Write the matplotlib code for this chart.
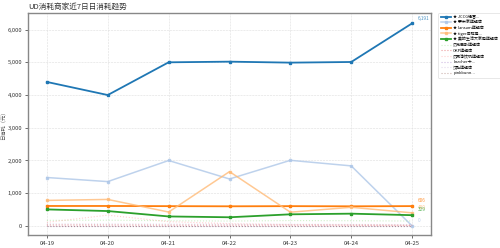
import matplotlib
matplotlib.use("Agg")
import matplotlib.pyplot as plt
from matplotlib.ticker import FuncFormatter

plt.rcParams['font.family'] = ['Noto Sans CJK SC', 'DejaVu Sans']

dates = ["04-19", "04-20", "04-21", "04-22", "04-23", "04-24", "04-25"]
names = ["★ JCCG经营...", "★ 慕米家旗舰店", "★ lansam旗舰店", "★ tiger虎牌电...",
         "★ 美的生活大家电旗舰店", "贝克巴斯旗舰店", "OKP旗舰店", "贝壳净饮机旗舰店",
         "karcher卡...", "汉酷旗舰店", "pinkbunn..."]
s_jccg = [4400, 4000, 5000, 5020, 4990, 5010, 6191]
s_mumi = [1480, 1355, 2000, 1435, 2005, 1835, 0]
s_lansam = [610, 610, 605, 600, 605, 600, 606]
s_tiger = [780, 810, 425, 1660, 420, 570, 400]
s_midea = [505, 455, 290, 265, 355, 375, 329]
s_beike = [170, 175, 160, 150, 165, 160, 150]
s_okp = [30, 30, 25, 25, 25, 25, 20]
s_bkjy = [110, 330, 130, 70, 40, 30, 20]
s_karcher = [10, 10, 10, 10, 10, 10, 10]
s_hanku = [60, 60, 55, 50, 50, 45, 40]
s_pink = [5, 5, 5, 5, 5, 5, 5]
series = [s_jccg, s_mumi, s_lansam, s_tiger, s_midea, s_beike, s_okp, s_bkjy,
          s_karcher, s_hanku, s_pink]
labelled = [0, 1, 2, 3, 4]

cmap = plt.get_cmap('tab20')
fig = plt.figure(figsize=(5, 2.48), dpi=100)
ax = fig.add_axes([0.056, 0.052, 0.806, 0.896])
x = list(range(len(dates)))
for i, (nm, vals) in enumerate(zip(names, series)):
    c = cmap(i)
    if i < 5:
        lw = 1.3 if i in (0, 2, 4) else 1.1
        al = 1.0 if i in (0, 2, 4) else 0.8
        ax.plot(x, vals, color=c, lw=lw, alpha=al, marker='s', ms=2.0, label=nm)
    else:
        ax.plot(x, vals, color=c, lw=0.8, alpha=0.45, ls=':', label=nm)

for i in labelled:
    v = series[i][-1]
    ax.annotate(f"{v:,}", (x[-1], v), xytext=(4, 2), textcoords='offset points',
                fontsize=3.4, color=cmap(i), alpha=0.8, ha='left', va='bottom')

ax.set_xlim(-0.31, 6.31)
ax.set_ylim(-280, 6510)
ax.set_xticks(x)
ax.set_xticklabels(dates)
ax.set_yticks(range(0, 7000, 1000))
ax.yaxis.set_major_formatter(FuncFormatter(lambda v, p: f"{int(v):,}"))
ax.tick_params(labelsize=4.2, length=2, width=0.5, colors='#333333', pad=2)
ax.grid(True, ls='--', lw=0.4, color='#dddddd')
for s in ax.spines.values():
    s.set_color('#888888')
    s.set_linewidth(1.0)
ax.set_ylabel("日消耗（元）", fontsize=3.8, color='#555555', labelpad=1)
ax.set_title("UD消耗商家近7日日消耗趋势", fontsize=5.5, loc='left', color='#333333', pad=3)

leg = ax.legend(loc='upper left', bbox_to_anchor=(1.018, 1.0), fontsize=2.9,
                frameon=True, handlelength=2.6, handletextpad=0.5, borderpad=0.6,
                labelspacing=0.32, borderaxespad=0)
leg.get_frame().set_linewidth(0.4)
leg.get_frame().set_edgecolor('#cccccc')

fig.savefig("out.png", dpi=100)
